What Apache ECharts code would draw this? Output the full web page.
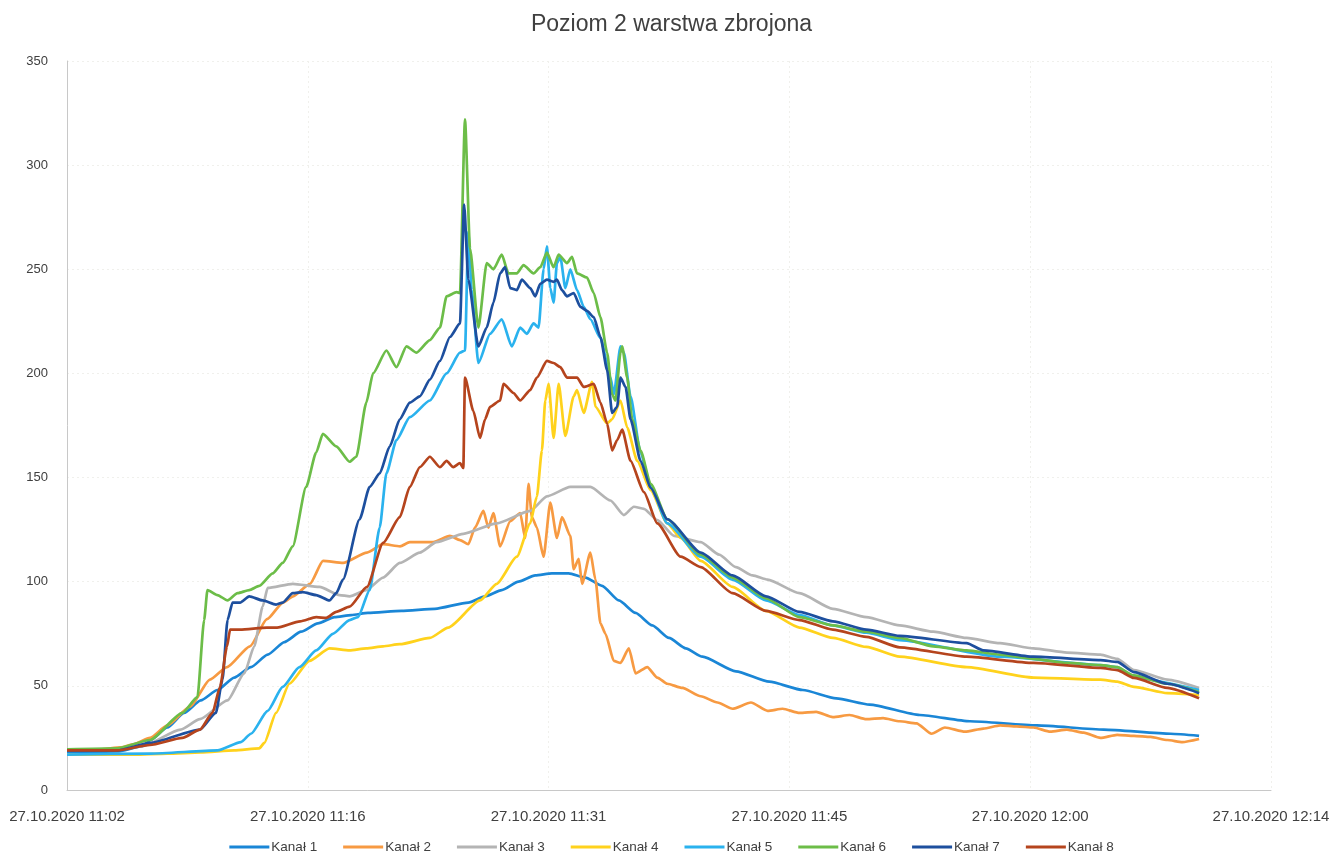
<!DOCTYPE html>
<html>
<head>
<meta charset="utf-8">
<title>Poziom 2 warstwa zbrojona</title>
<script src="https://cdn.jsdelivr.net/npm/echarts@6/dist/echarts.min.js"></script>
<style>
  html, body { margin: 0; padding: 0; background: #ffffff; }
  #chart { width: 1343px; height: 861px; }
</style>
</head>
<body>
<div id="chart"></div>
<script>
// Time axis: minutes after 27.10.2020 11:02, one label every 14.4 min
const tickLabels = ['27.10.2020 11:02', '27.10.2020 11:16', '27.10.2020 11:31',
                    '27.10.2020 11:45', '27.10.2020 12:00', '27.10.2020 12:14'];
const seriesNames = ['Kanał 1', 'Kanał 2', 'Kanał 3', 'Kanał 4', 'Kanał 5', 'Kanał 6', 'Kanał 7', 'Kanał 8'];

// [minute, value]
const kanal1 = [[0,18],[3,18.5],[4.5,21],[5,24],[6,30],[7,37],[8,43],[9,48],[10,54],[11,59],[12,65],[13,71],[14,76],[15,80],[16,83],[17,84],[18,85],[20,86],[22,87],[24,90],[25,93],[26,96],[27,100],[28,103],[29,104],[30,104],[31,102],[32,98],[33,91],[34,85],[35,79],[36,73],[37,68],[38,64],[40,57],[42,52],[44,48],[46,44],[48,41],[51,36],[54,33],[58,31],[62,29],[66,27],[67.7,26]];

const kanal2 = [[0,19.5],[2,19.5],[3.2,20.5],[4,22],[4.96,25],[6,31],[7.36,40],[8.55,53],[9.57,59],[10.94,69],[11.96,82],[12.92,90],[13.52,93],[14.53,99],[15.31,110],[16.51,109],[17.94,114],[18.9,118],[19.92,117],[20.5,119],[21.9,119],[22.9,122],[23.5,120],[24.0,118],[24.4,126],[24.9,134],[25.2,126],[25.5,133],[25.9,117],[26.5,129],[27.1,133],[27.4,121],[27.6,147],[27.8,131],[28.1,126],[28.5,112],[28.9,138],[29.3,121],[29.6,131],[30.1,122],[30.3,106],[30.6,111],[30.8,99],[31.3,114],[31.6,101],[31.9,80],[32.2,75],[32.7,62],[33.1,61],[33.6,68],[34.0,56],[34.7,59],[35.3,54],[35.9,51],[36.8,49],[37.9,45],[38.9,42],[39.8,39],[40.9,42],[41.9,38],[42.8,39],[43.8,37],[44.8,37.5],[45.8,35],[46.8,36],[47.8,34],[48.8,34.5],[49.8,33],[50.8,32],[51.7,27],[52.5,30],[53.7,28],[54.8,29.5],[55.8,31],[56.8,30.5],[57.8,30],[58.8,28],[59.8,29],[60.8,27.5],[61.8,25],[62.8,26.5],[63.8,26],[64.8,25.5],[65.8,24],[66.7,23],[67.7,24.5]];

const kanal3 = [[0,19.5],[3,19.5],[4.5,21],[6.8,29],[7.95,34],[9.6,43],[10.6,56],[11.2,69],[11.7,88],[12.0,97],[13.5,99],[15.1,97.5],[16.3,93.6],[16.9,93],[17.9,96],[18.9,102],[19.9,109],[21.1,114],[22.1,119],[23.7,123],[25.7,128],[27.7,134],[28.7,141],[30.1,145.5],[31.3,145.5],[32.5,139],[33.3,132],[33.9,136],[34.5,135],[35.3,129.6],[36.3,122],[37.9,119],[39.0,113],[40.0,107],[41.0,103],[41.9,101],[43.8,94.5],[45.8,87],[47.8,83],[49.8,79],[51.8,76],[53.8,73],[55.8,70.5],[57.8,68],[59.8,66],[61.8,65],[62.8,63],[63.8,57.6],[65.8,53],[67.7,49]];

const kanal4 = [[0,17],[4,17],[6,17.5],[8,18],[10,19],[11.5,20],[11.8,22.6],[12.5,37],[13.3,51],[14.5,62],[15.7,68],[16.9,67],[17.9,68],[18.9,69],[19.9,70],[21.7,73],[22.8,78],[24.7,91],[25.7,99],[26.9,112],[27.7,128],[28.1,141],[28.4,163],[28.6,187],[28.8,195],[29.1,169],[29.4,195],[29.8,170],[30.3,189],[30.5,192],[30.9,181],[31.4,196],[31.6,184],[32.3,176],[32.6,178],[33.1,187],[33.5,174],[34.1,158],[34.9,144],[35.9,128],[36.7,121],[37.9,110],[39.8,97.5],[41.8,86],[43.8,78],[45.8,73],[47.8,68.7],[49.8,64],[53.8,59],[57.8,54],[61.8,53],[62.8,52],[63.8,49.5],[65.8,46.5],[67.7,45.6]];

const kanal5 = [[0,17],[5,17.5],[9,19],[10.4,23],[11,27],[12,38],[12.9,49.5],[13.9,59],[14.9,67],[15.9,75],[16.9,81.6],[17.4,83],[18.1,96],[18.7,126],[19.1,152],[19.7,168],[20.5,179],[21.7,187],[22.7,200],[23.5,210],[23.8,211],[24.0,268],[24.2,240],[24.6,205],[25.3,219],[26.0,226],[26.6,213],[27.1,222],[27.5,219],[27.9,224],[28.2,222],[28.5,250],[28.7,261],[28.9,241],[29.1,234],[29.3,253],[29.5,256],[29.8,241],[30.1,250],[30.5,240],[30.9,232],[31.3,226],[31.9,217],[32.5,198],[32.7,190],[33.1,213],[33.3,210],[33.7,189],[34.3,162],[34.9,145.5],[35.9,128],[37.9,112],[39.8,101],[41.8,91],[43.8,84],[45.8,79],[47.8,75.5],[49.8,72],[55.8,64],[61.8,60],[62.8,59],[63.8,54],[67.7,48]];

const kanal6 = [[0,19.5],[3,20],[4.96,24],[6.9,37],[7.8,44.6],[8.2,81.6],[8.4,96],[9,93.6],[9.6,91],[10.2,94.5],[10.9,96],[11.5,98],[12.3,104],[12.9,109],[13.5,117],[14.3,145.5],[14.9,162],[15.3,171],[16.1,165],[16.9,157.6],[17.3,160],[17.9,186],[18.3,200],[19.1,211],[19.7,203],[20.3,213],[20.9,210],[21.7,216],[22.3,222],[22.7,237],[23.3,239],[23.5,238.6],[23.8,322],[24.1,260],[24.6,222],[25.1,253],[25.5,250],[26.0,257],[26.4,248],[26.9,248],[27.3,252],[27.9,248],[28.3,251],[28.7,258],[29.1,251],[29.4,257],[29.9,253],[30.2,256],[30.5,248],[31.1,246],[31.5,238.6],[31.9,227],[32.3,210],[32.6,190],[32.8,187],[33.1,210],[33.2,213],[33.5,198],[33.8,178],[34.3,163],[34.9,147],[35.9,130],[37.9,113],[39.8,102],[41.8,92],[43.8,83],[45.8,79],[47.8,76],[49.8,73],[51.8,69],[53.8,67],[55.8,65],[57.8,63],[59.8,61],[61.8,60],[62.8,59],[63.8,55],[65.8,51],[67.7,47]];

const kanal7 = [[0,19],[3,19],[4.96,22.6],[7.95,29],[8.9,37],[9.3,53],[9.6,81.6],[9.9,90],[10.35,90],[10.9,93],[11.7,91],[12.5,89],[12.9,90],[13.5,94.5],[14.1,95],[14.9,93.6],[15.7,91],[16.1,94.5],[16.5,101],[17.5,130],[18.1,145.5],[18.7,152],[19.3,165],[19.9,178],[20.5,186],[21.1,189],[21.7,197],[22.3,206],[22.9,217.5],[23.5,224],[23.75,281],[24.0,245],[24.6,213],[25.1,222],[25.5,234],[25.9,248],[26.2,251],[26.5,241],[26.9,240],[27.2,245],[27.7,241],[28.0,237],[28.3,243],[28.7,245],[29.1,244],[29.3,245],[29.6,240],[29.9,237],[30.3,238.6],[30.7,232],[31.1,230],[31.5,227],[31.9,217.5],[32.3,201.6],[32.6,181],[32.9,184],[33.1,198],[33.4,193.5],[33.7,178],[34.3,158],[34.9,145],[35.9,130],[37.9,114],[39.8,103],[41.8,93],[43.8,85.5],[45.8,81],[47.8,77],[49.8,74],[53.8,70.5],[54.8,67],[57.8,64],[61.8,62.4],[62.8,61.5],[63.8,56.6],[65.8,51],[67.7,46.5]];

const kanal8 = [[0,19],[3,19],[4.96,21.6],[6.9,25],[7.95,29],[8.7,37],[9.15,49.5],[9.57,69],[9.75,77],[10.35,77],[11.96,78],[12.56,78],[13.94,81],[14.9,83],[15.5,82.6],[16.1,85.5],[16.9,88],[17.94,97.5],[18.9,118.6],[19.9,131],[20.5,145.5],[21.1,155],[21.7,160],[22.3,155],[22.7,158],[23.1,155],[23.5,157],[23.7,154.6],[23.8,198],[24.3,182],[24.7,169],[25.0,178],[25.3,184],[25.9,187],[26.1,195],[26.7,190.6],[27.1,187],[27.7,192],[28.1,198],[28.7,206],[29.1,205],[29.5,203],[29.9,198],[30.5,198],[30.9,193.5],[31.5,195],[31.9,186],[32.3,176],[32.6,163],[32.9,168],[33.2,173],[33.7,158],[34.5,143],[35.3,128],[36.7,112],[37.9,107],[39.8,94.5],[41.8,86],[43.8,81.6],[45.8,77],[47.8,73.5],[49.8,68.5],[53.8,64],[57.8,61],[61.8,58.6],[62.8,57.6],[63.8,53.8],[65.8,49],[67.7,44]];

const seriesData = [kanal1, kanal2, kanal3, kanal4, kanal5, kanal6, kanal7, kanal8];
const seriesColors = ['#1a86d6', '#f79a42', '#b4b4b4', '#ffd21c', '#2ab2ee', '#6cbd48', '#1d4f9e', '#b5441d'];

const chart = echarts.init(document.getElementById('chart'), null, { renderer: 'canvas' });

const fontFamily = '"Liberation Sans", Arial, sans-serif';

chart.setOption({
  animation: false,
  backgroundColor: '#ffffff',
  color: seriesColors,
  title: {
    text: 'Poziom 2 warstwa zbrojona',
    left: 'center',
    top: 8,
    textStyle: { fontFamily, fontSize: 23, fontWeight: 'normal', color: '#404040' }
  },
  legend: {
    bottom: 2,
    left: 'center',
    icon: 'rect',
    itemWidth: 40,
    itemHeight: 3,
    itemGap: 26,
    textStyle: { fontFamily, fontSize: 13.5, color: '#404040', padding: [0, 0, 0, -3] },
    data: seriesNames
  },
  grid: { left: 67, right: 72, top: 61, bottom: 71, containLabel: false },
  xAxis: {
    type: 'value',
    min: 0,
    max: 72,
    interval: 14.4,
    axisLine: { show: true, lineStyle: { color: '#c8c8c8', width: 1 } },
    axisTick: { show: false },
    splitLine: { show: true, lineStyle: { color: '#f0f0ec', type: [2, 3] } },
    axisLabel: {
      fontFamily, fontSize: 15, color: '#404040', margin: 19,
      showMinLabel: true, showMaxLabel: true,
      formatter: (v) => tickLabels[Math.round(v / 14.4)] || ''
    }
  },
  yAxis: {
    type: 'value',
    min: 0,
    max: 350,
    interval: 50,
    axisLine: { show: true, lineStyle: { color: '#c8c8c8', width: 1 } },
    axisTick: { show: false },
    splitLine: { show: true, lineStyle: { color: '#f0f0ec', type: [2, 3] } },
    axisLabel: { fontFamily, fontSize: 13, color: '#404040', margin: 19 }
  },
  series: seriesNames.map((name, i) => ({
    name,
    type: 'line',
    data: seriesData[i],
    showSymbol: false,
    symbol: 'none',
    smooth: 0.2,
    smoothMonotone: 'x',
    lineStyle: { width: 2.7, color: seriesColors[i] },
    itemStyle: { color: seriesColors[i] }
  }))
});
</script>
</body>
</html>
